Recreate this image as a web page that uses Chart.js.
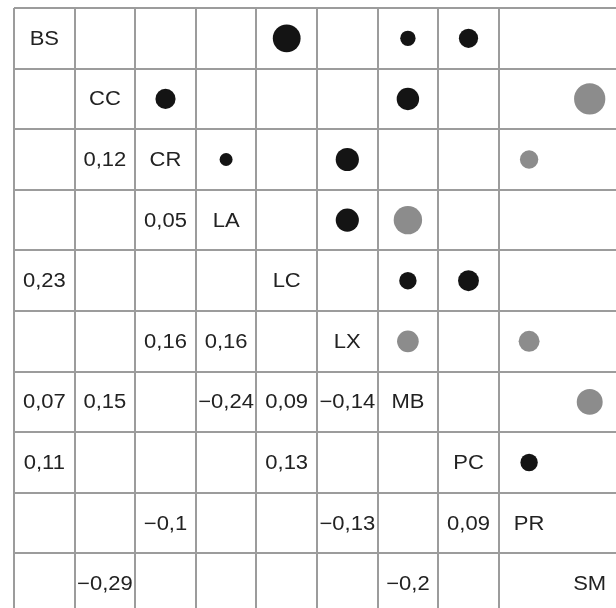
<!DOCTYPE html>
<html>
<head>
<meta charset="utf-8">
<script src="https://cdn.jsdelivr.net/npm/chart.js@4/dist/chart.umd.min.js"></script>
<style>
  html, body { margin: 0; padding: 0; background: #ffffff; overflow: hidden; }
  #wrap { width: 616px; height: 608px; position: absolute; left: 0; top: 0; }
  canvas { display: block; }
</style>
</head>
<body>
<div id="wrap"><canvas id="c" width="616" height="608"></canvas></div>
<script>
// Variables (diagonal labels)
const variables = ['BS', 'CC', 'CR', 'LA', 'LC', 'LX', 'MB', 'PC', 'PR', 'SM'];
// Significant correlation pairs
const pairFirst  = ['BS', 'BS', 'BS', 'CC', 'CC', 'CC', 'CR', 'CR', 'CR', 'LA', 'LA', 'LC', 'LC', 'LX', 'LX', 'MB', 'PC'];
const pairSecond = ['LC', 'MB', 'PC', 'CR', 'MB', 'SM', 'LA', 'LX', 'PR', 'LX', 'MB', 'MB', 'PC', 'MB', 'PR', 'SM', 'PR'];
const pairCorr   = [0.23, 0.07, 0.11, 0.12, 0.15, -0.29, 0.05, 0.16, -0.1, 0.16, -0.24, 0.09, 0.13, -0.14, -0.13, -0.2, 0.09];

const POS = '#141414', NEG = '#8c8c8c', TXT = '#222222', GRID = '#9c9c9c';
const CELL = 60.6;

// bubbles in upper triangle: row = first var, col = second var
const bubbles = pairCorr.map((v, k) => ({
  x: variables.indexOf(pairSecond[k]) + 0.5,
  y: variables.indexOf(pairFirst[k]) + 0.5,
  v: v
}));

function fmt(v) {
  return String(v).replace('.', ',').replace('-', '\u2212');
}

function drawText(ctx, s, x, y) {
  ctx.save();
  ctx.translate(x, y);
  ctx.scale(1.1, 1);
  ctx.fillText(s, 0, 0);
  ctx.restore();
}

const textPlugin = {
  id: 'cellText',
  afterDatasetsDraw(chart) {
    const ctx = chart.ctx;
    const xs = chart.scales.x, ys = chart.scales.y;
    ctx.save();
    ctx.fillStyle = TXT;
    ctx.font = '20px "Liberation Sans", Arial, sans-serif';
    ctx.textAlign = 'center';
    ctx.textBaseline = 'middle';
    variables.forEach((name, i) => {
      drawText(ctx, name, xs.getPixelForValue(i + 0.5), ys.getPixelForValue(i + 0.5) + 1);
    });
    pairCorr.forEach((v, k) => {
      const r = variables.indexOf(pairSecond[k]);
      const c = variables.indexOf(pairFirst[k]);
      drawText(ctx, fmt(v), xs.getPixelForValue(c + 0.5), ys.getPixelForValue(r + 0.5) + 1);
    });
    ctx.restore();
  }
};

const intTicks = (axis) => { axis.ticks = axis.ticks.filter(t => Number.isInteger(t.value)); };

new Chart(document.getElementById('c'), {
  type: 'bubble',
  data: {
    datasets: [{
      data: bubbles,
      radius: (c) => 29 * Math.sqrt(Math.abs(c.raw.v)),
      backgroundColor: (c) => c.raw.v >= 0 ? POS : NEG,
      borderWidth: 0,
      hoverRadius: 0
    }]
  },
  options: {
    responsive: false,
    animation: false,
    events: [],
    layout: { autoPadding: false, padding: { left: 14, top: 8, right: 0, bottom: 0 } },
    plugins: { legend: { display: false }, tooltip: { enabled: false } },
    scales: {
      x: {
        type: 'linear',
        min: 0,
        max: 602 / CELL,
        afterBuildTicks: intTicks,
        afterFit: (s) => { s.height = 0; s.paddingLeft = 0; s.paddingRight = 0; },
        ticks: { display: false, stepSize: 1 },
        grid: { color: GRID, lineWidth: 2, drawTicks: false },
        border: { display: false }
      },
      y: {
        type: 'linear',
        reverse: true,
        min: 0,
        max: 600 / CELL,
        afterBuildTicks: intTicks,
        afterFit: (s) => { s.width = 0; s.paddingTop = 0; s.paddingBottom = 0; },
        ticks: { display: false, stepSize: 1 },
        grid: { color: GRID, lineWidth: 2, drawTicks: false },
        border: { display: false }
      }
    }
  },
  plugins: [textPlugin]
});
</script>
</body>
</html>
